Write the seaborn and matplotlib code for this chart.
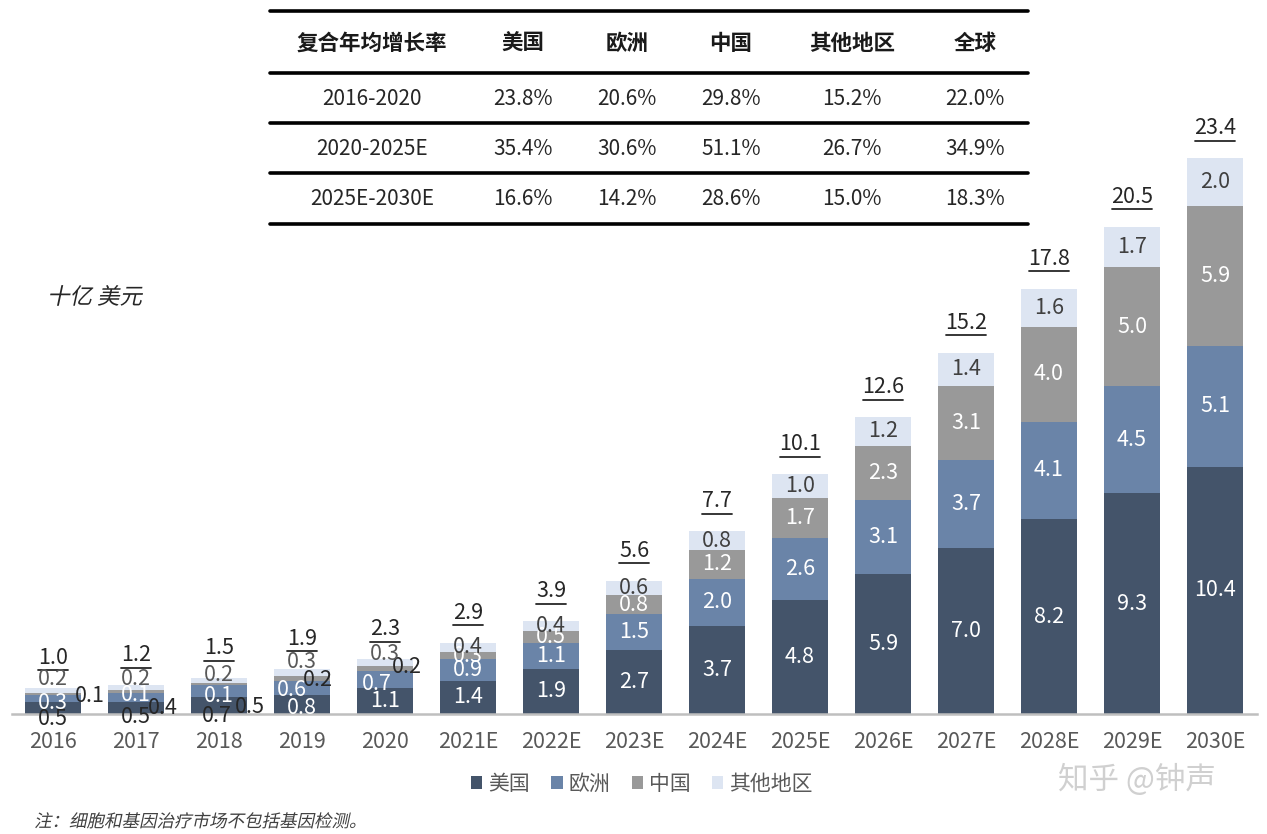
import matplotlib
matplotlib.use("Agg")
import matplotlib.pyplot as plt
from matplotlib.font_manager import FontProperties
from matplotlib.lines import Line2D
from matplotlib.patches import Patch, PathPatch
from matplotlib.text import TextPath
from matplotlib.transforms import Affine2D
import numpy as np
import pandas as pd
import seaborn as sns

years = ["2016", "2017", "2018", "2019", "2020", "2021E", "2022E", "2023E",
         "2024E", "2025E", "2026E", "2027E", "2028E", "2029E", "2030E"]
us = [0.5, 0.5, 0.7, 0.8, 1.1, 1.4, 1.9, 2.7, 3.7, 4.8, 5.9, 7.0, 8.2, 9.3, 10.4]
europe = [0.3, 0.4, 0.5, 0.6, 0.7, 0.9, 1.1, 1.5, 2.0, 2.6, 3.1, 3.7, 4.1, 4.5, 5.1]
china = [0.1, 0.1, 0.1, 0.2, 0.2, 0.3, 0.5, 0.8, 1.2, 1.7, 2.3, 3.1, 4.0, 5.0, 5.9]
other = [0.2, 0.2, 0.2, 0.3, 0.3, 0.4, 0.4, 0.6, 0.8, 1.0, 1.2, 1.4, 1.6, 1.7, 2.0]
totals = [1.0, 1.2, 1.5, 1.9, 2.3, 2.9, 3.9, 5.6, 7.7, 10.1, 12.6, 15.2, 17.8, 20.5, 23.4]

region_names = ["美国", "欧洲", "中国", "其他地区"]

# CAGR table
cagr_header = ["复合年均增长率", "美国", "欧洲", "中国", "其他地区", "全球"]
cagr_periods = ["2016-2020", "2020-2025E", "2025E-2030E"]
cagr_us = ["23.8%", "35.4%", "16.6%"]
cagr_europe = ["20.6%", "30.6%", "14.2%"]
cagr_china = ["29.8%", "51.1%", "28.6%"]
cagr_other = ["15.2%", "26.7%", "15.0%"]
cagr_global = ["22.0%", "34.9%", "18.3%"]

colors = ["#44546a", "#6a84a8", "#999999", "#dde5f2"]
label_colors = ["white", "white", "white", "#404040"]

# manual nudges (pixels) for crowded labels on the small early bars
label_nudge = {
    (0, 0): (0, -11, "#262626"), (0, 1): (0, -4, "white"), (0, 2): (37, -2, "#262626"), (0, 3): (0, 11, "#595959"),
    (1, 0): (0, -9, "#262626"), (1, 1): (27, -11, "#262626"), (1, 2): (0, -4, "white"), (1, 3): (0, 9, "#595959"),
    (2, 0): (-2, -10, "#262626"), (2, 1): (31, -16, "#262626"), (2, 2): (0, -12, "white"), (2, 3): (0, 6, "#595959"),
    (3, 0): (0, -4, "white"), (3, 1): (-10, -2, "white"), (3, 2): (16, -2, "#262626"), (3, 3): (0, 10, "#595959"),
    (4, 0): (0, 0, "white"), (4, 1): (-8, -4, "white"), (4, 2): (22, 2, "#262626"), (4, 3): (0, 9, "#595959"),
}

sns.set_theme(style="white")
plt.rcParams["font.family"] = ["Noto Sans CJK SC", "DejaVu Sans"]

W, H = 1267, 834
fig = plt.figure(figsize=(W / 100, H / 100), dpi=100)
ax = fig.add_axes([11.5 / W, (H - 714) / H, 1245 / W, 594 / H])

series = [us, europe, china, other]
bottom = np.zeros(len(years))
for k, vals in enumerate(series):
    df = pd.DataFrame({"year": years, "value": vals})
    sns.barplot(data=df, x="year", y="value", color=colors[k], width=0.67,
                bottom=bottom, ax=ax, saturation=1, linewidth=0, errorbar=None)
    for i, v in enumerate(vals):
        cy = bottom[i] + v / 2
        dx, dy, c = label_nudge.get((i, k), (0, 0, label_colors[k]))
        ax.annotate(f"{v:.1f}", (i, cy), xytext=(dx, dy), textcoords="offset pixels",
                    ha="center", va="center", fontsize=15.5, color=c)
    bottom = bottom + np.array(vals)

for i, t in enumerate(totals):
    s = f"{t:.1f}"
    ax.annotate(s, (i, bottom[i]), xytext=(0, 30), textcoords="offset pixels",
                ha="center", va="center", fontsize=15.5, color="#262626")
    half = 0.06 * len(s)
    yline = bottom[i] + 17.5 / 23.76
    ax.plot([i - half, i + half], [yline, yline], color="#262626", lw=1.3, clip_on=False)

ax.set_xlim(-0.5, len(years) - 0.5)
ax.set_ylim(0, 25)
ax.set_xlabel("")
ax.set_ylabel("")
ax.set_yticks([])
for s in ["top", "right", "left"]:
    ax.spines[s].set_visible(False)
ax.spines["bottom"].set_color("#bfbfbf")
ax.spines["bottom"].set_linewidth(1.8)
ax.tick_params(axis="x", length=0, pad=12, labelsize=15.5, labelcolor="#595959")


def slanted_text(x, y, s, size, color):
    # CJK fonts ship without italics, so shear the glyph outlines instead
    path = TextPath((0, 0), s, size=size, prop=FontProperties(family="Noto Sans CJK SC"))
    tr = Affine2D().skew_deg(12, 0).translate(x, H - y)
    fig.add_artist(PathPatch(path, transform=tr, facecolor=color, edgecolor="none"))


slanted_text(47, 304, "十亿 美元", 22.5, "#262626")
slanted_text(34, 827, "注：细胞和基因治疗市场不包括基因检测。", 17.5, "#404040")
fig.text(1137 / W, 1 - 780 / H, "知乎 @钟声", fontsize=22, color="#d0d0d0",
         ha="center", va="center")

# legend
handles = [Patch(facecolor=c, edgecolor="none") for c in colors]
leg = fig.legend(handles, region_names, loc="center", bbox_to_anchor=(642 / W, 1 - 784 / H),
                 ncol=4, frameon=False, fontsize=15, handlelength=0.55, handleheight=0.55,
                 handletextpad=0.3, columnspacing=1.0)
for t in leg.get_texts():
    t.set_color("#595959")

# CAGR table
col_x = [372, 523, 627, 731, 852, 975]
row_y = [43, 99, 149, 199]
line_y = [11, 73, 123, 173, 224]
for y in line_y:
    fig.add_artist(Line2D([270 / W, 1028 / W], [1 - y / H, 1 - y / H], color="black", lw=2.6))
for x, h in zip(col_x, cagr_header):
    fig.text(x / W, 1 - row_y[0] / H, h, ha="center", va="center", fontsize=15.5,
             fontweight="bold", color="#1a1a1a")
table_cols = [cagr_periods, cagr_us, cagr_europe, cagr_china, cagr_other, cagr_global]
for x, col in zip(col_x, table_cols):
    for y, val in zip(row_y[1:], col):
        fig.text(x / W, 1 - y / H, val, ha="center", va="center", fontsize=15, color="#262626")

fig.savefig("out.png", dpi=100)
